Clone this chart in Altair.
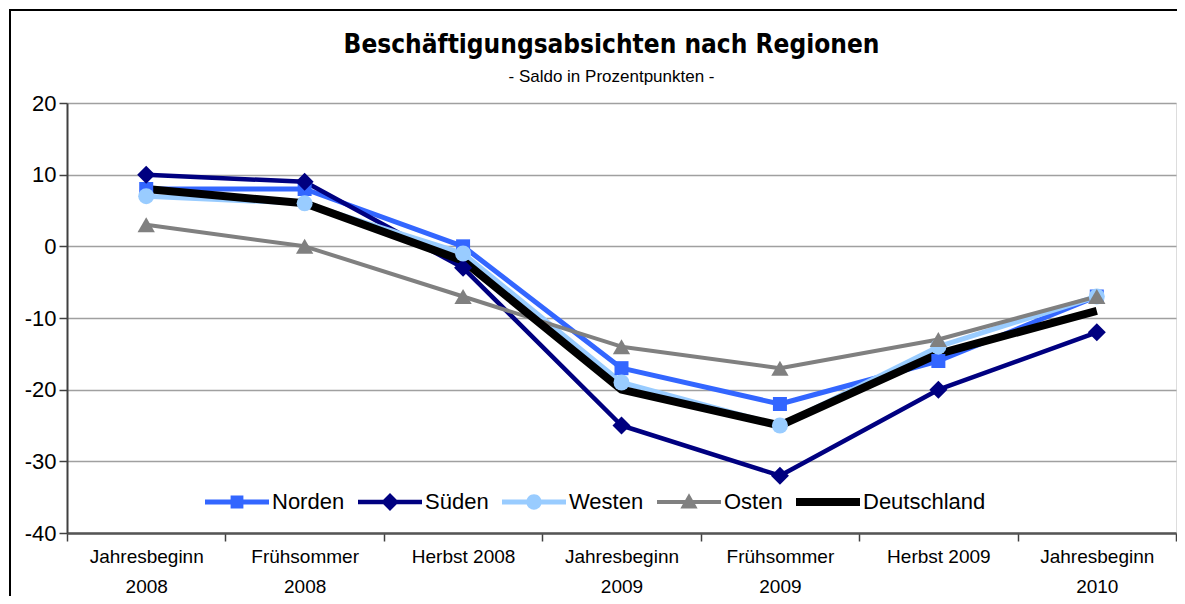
import altair as alt
import pandas as pd

categories = ["Jahresbeginn 2008", "Frühsommer 2008", "Herbst 2008", "Jahresbeginn 2009",
              "Frühsommer 2009", "Herbst 2009", "Jahresbeginn 2010"]
series = ["Norden", "Süden", "Westen", "Osten", "Deutschland"]
norden = [8, 8, 0, -17, -22, -16, -7]
sueden = [10, 9, -3, -25, -32, -20, -12]
westen = [7, 6, -1, -19, -25, -14, -7]
osten = [3, 0, -7, -14, -17, -13, -7]
deutschland = [8, 6, -2, -20, -25, -15, -9]
y_ticks = [-40, -30, -20, -10, 0, 10, 20]

colors = ["#3366FF", "#000080", "#99CCFF", "#808080", "#000000"]
line_widths = [5, 4.5, 5, 4, 8]
marker_shapes = ["square", "diamond", "circle", "triangle-up", None]
marker_sizes = [196, 324, 256, 300, 0]

# legend symbols: line segment plus marker (unit box -1..1)
legend_paths = [
    "M-1,-0.075H1V0.075H-1Z M-0.2,-0.2H0.2V0.2H-0.2Z",
    "M-1,-0.07H1V0.07H-1Z M0,-0.28L0.28,0L0,0.28L-0.28,0Z",
    "M-1,-0.075H1V0.075H-1Z M0.24,0C0.24,0.133 0.133,0.24 0,0.24C-0.133,0.24 -0.24,0.133 -0.24,0C-0.24,-0.133 -0.133,-0.24 0,-0.24C0.133,-0.24 0.24,-0.133 0.24,0Z",
    "M-1,-0.065H1V0.065H-1Z M0,-0.27L0.27,0.2L-0.27,0.2Z",
    "M-1,-0.125H1V0.125H-1Z",
]

rows = []
for name, vals in zip(series, [norden, sueden, westen, osten, deutschland]):
    for i, (c, v) in enumerate(zip(categories, vals)):
        rows.append({"Region": name, "Periode": c, "Saldo": v, "idx": i})
df = pd.DataFrame(rows)

FONT = "Liberation Sans"

x_enc = alt.X(
    "Periode:N", sort=categories,
    scale=alt.Scale(type="band", paddingInner=0, paddingOuter=0),
    axis=alt.Axis(
        title=None, labelAngle=0, tickBand="extent", grid=False,
        labelExpr="indexof(datum.label, 'Herbst') >= 0 ? datum.label : split(datum.label, ' ')",
        labelFont=FONT, labelFontSize=19, labelLineHeight=30, labelPadding=6,
        labelColor="#000000", tickSize=8, tickColor="#404040", tickWidth=1.5,
        domainColor="#555555", domainWidth=2.5,
    ),
)
y_enc = alt.Y(
    "Saldo:Q",
    scale=alt.Scale(domain=[-40, 20], nice=False),
    axis=alt.Axis(
        title=None, values=y_ticks, labelExpr="datum.value + ''",
        labelFont=FONT, labelFontSize=22, labelPadding=3, labelColor="#000000",
        tickSize=8, tickColor="#404040", tickWidth=1.5,
        domainColor="#404040", domainWidth=2,
        grid=True, gridColor="#A0A0A0", gridWidth=1.5,
    ),
)

base = alt.Chart(df)

line_layers = []
for name, col, lw in zip(series, colors, line_widths):
    line_layers.append(
        base.transform_filter(alt.datum.Region == name).mark_line(
            color=col, strokeWidth=lw, strokeJoin="round", strokeCap="butt"
        ).encode(x=x_enc, y=y_enc, order=alt.Order("idx:Q"))
    )

point_layers = []
for name, col, shp, sz in zip(series, colors, marker_shapes, marker_sizes):
    if shp is None:
        continue
    point_layers.append(
        base.transform_filter(alt.datum.Region == name).mark_point(
            filled=True, opacity=1, color=col, shape=shp, size=sz
        ).encode(x=x_enc, y=y_enc)
    )

legend_layer = base.transform_filter("false").mark_point(filled=True, opacity=1).encode(
    color=alt.Color("Region:N", scale=alt.Scale(domain=series, range=colors),
                    legend=alt.Legend(
                        title=None, orient="none", legendX=138, legendY=367,
                        direction="horizontal", symbolSize=4096, symbolStrokeWidth=0,
                        labelFont=FONT, labelFontSize=22, labelColor="#000000",
                        labelOffset=3, columnPadding=13, padding=0,
                    )),
    shape=alt.Shape("Region:N", scale=alt.Scale(domain=series, range=legend_paths)),
)

frame = alt.Chart(pd.DataFrame({"a": [0]})).mark_rect(
    fillOpacity=0, stroke="#000000", strokeWidth=2
).encode(
    x=alt.value(-57), x2=alt.value(1300), y=alt.value(-93), y2=alt.value(800)
)

chart = alt.layer(*line_layers, *point_layers, legend_layer, frame).properties(
    width=1109, height=430,
    autosize=alt.AutoSizeParams(type="none"),
    padding={"left": 59, "top": 95, "right": 1, "bottom": 63},
    title=alt.TitleParams(
        text="Beschäftigungsabsichten nach Regionen",
        subtitle="- Saldo in Prozentpunkten -",
        font="DejaVu Sans Condensed", fontSize=26, fontWeight="bold", color="#000000",
        subtitleFont=FONT, subtitleFontSize=17, subtitleColor="#000000",
        subtitlePadding=11, anchor="middle", frame="group", offset=-76, dx=-10,
    ),
).configure_view(
    stroke="#A0A0A0", strokeWidth=2.5
).configure(background="#FFFFFF")

chart.save("out.html", embed_options={"renderer": "svg", "actions": False})
